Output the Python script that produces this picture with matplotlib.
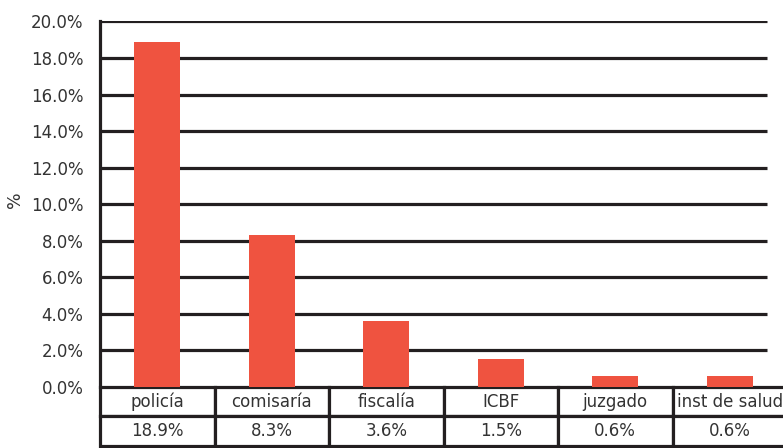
import numpy as np
import matplotlib
matplotlib.use("Agg")
import matplotlib.pyplot as plt

# data
categories = ["policía", "comisaría", "fiscalía", "ICBF", "juzgado", "inst de salud"]
values = [18.9, 8.3, 3.6, 1.5, 0.6, 0.6]
value_labels = ["18.9%", "8.3%", "3.6%", "1.5%", "0.6%", "0.6%"]
y_ticks = [0, 2, 4, 6, 8, 10, 12, 14, 16, 18, 20]

BAR_COLOR = "#EF5340"
INK = "#231F20"
TEXT = "#333333"
W, H = 783, 448

plt.rcParams["font.family"] = ["DejaVu Sans"]

fig = plt.figure(figsize=(W / 100, H / 100), dpi=100)
left, right = 100, 787
top, bottom = 21.5, 386.7
ax = fig.add_axes([left / W, (H - bottom) / H, (right - left) / W, (bottom - top) / H])

x = np.arange(len(categories))
ax.set_xlim(-0.5, len(categories) - 0.5)
ax.set_ylim(0, 20)

# gridlines stop a bit short of the last column, like the source
grid_end = -0.5 + (767 - left) / (right - left) * len(categories)
ax.hlines(y_ticks[1:], -0.5, grid_end, colors=INK, linewidth=2.3, zorder=1)

ax.bar(x, values, width=0.4, color=BAR_COLOR, zorder=2)

ax.set_yticks(y_ticks)
ax.set_yticklabels([f"{t:.1f}%" for t in y_ticks], fontsize=12, color=TEXT)
ax.tick_params(axis="y", length=0, pad=12)
ax.set_xticks([])

for side in ["top", "right", "bottom"]:
    ax.spines[side].set_visible(False)
ax.spines["left"].set_linewidth(2.3)
ax.spines["left"].set_color(INK)

fig.text(15 / W, (H - 200) / H, "%", rotation=90, ha="center", va="center",
         fontsize=12.5, color=TEXT)

# table under the axis
tbl_h = (446 - bottom) / (bottom - top)
tbl = ax.table(cellText=[categories, value_labels], cellLoc="center",
               bbox=[0, -tbl_h, 1, tbl_h])
tbl.auto_set_font_size(False)
for (r, c), cell in tbl.get_celld().items():
    cell.set_linewidth(2.3)
    cell.set_edgecolor(INK)
    cell.get_text().set_fontsize(12)
    cell.get_text().set_color(TEXT)
    cell.set_clip_on(False)

fig.savefig("out.png", dpi=100)
